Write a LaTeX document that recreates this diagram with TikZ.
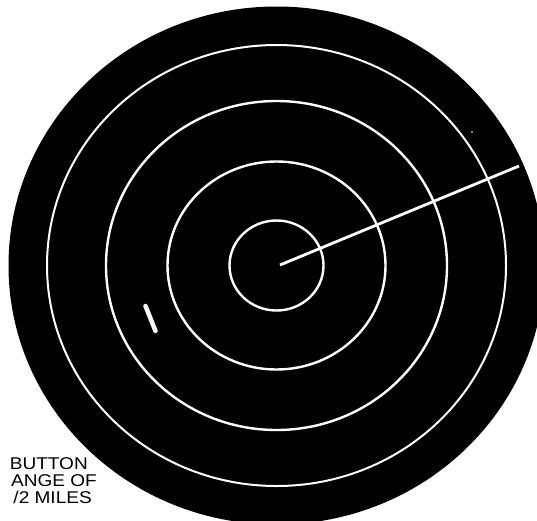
\documentclass[tikz,border=0pt]{standalone}
\usepackage{fontspec}
\setmainfont{Liberation Sans}

\begin{document}
\begin{tikzpicture}[x=1pt,y=-1pt,
  ring/.style={draw=white, line width=2.4pt},
  thinring/.style={draw=white, line width=2pt},
  sweep/.style={draw=white, line width=2.8pt},
  blip/.style={draw=white, line width=4.5pt, line cap=round},
  lettering/.style={anchor=base east, inner sep=0pt, xscale=1.12, font=\fontsize{17}{17}\selectfont},
]
\useasboundingbox (0,0) rectangle (537,520);
\clip (0,0) rectangle (537,520);
\fill[white] (0,0) rectangle (537,520);
\coordinate (hub) at (276.5,265.5);
% scope face
\fill[black] (hub) ellipse [x radius=268, y radius=259];
% range rings
\draw[ring] (hub) ellipse [x radius=47, y radius=45];
\draw[ring] (hub) ellipse [x radius=109, y radius=104];
\draw[ring] (hub) ellipse [x radius=170.5, y radius=164.5];
\draw[thinring] (hub) ellipse [x radius=229.5, y radius=220.5];
% sweep line and echoes
\coordinate (ray0) at (280,265);
\coordinate (ray1) at (519,166);
\draw[sweep] (ray0) -- (ray1);
\coordinate (echo0) at (145.5,306);
\coordinate (echo1) at (155.5,331);
\draw[blip] (echo0) -- (echo1);
\fill[white] (472,132) circle (0.9);
% caption
\node[lettering] (cap1) at (88,469) {BUTTON};
\node[lettering] (cap2) at (97,486) {ANGE OF};
\node[lettering] (cap3) at (92,503) {/2 MILES};
\end{tikzpicture}
\end{document}
